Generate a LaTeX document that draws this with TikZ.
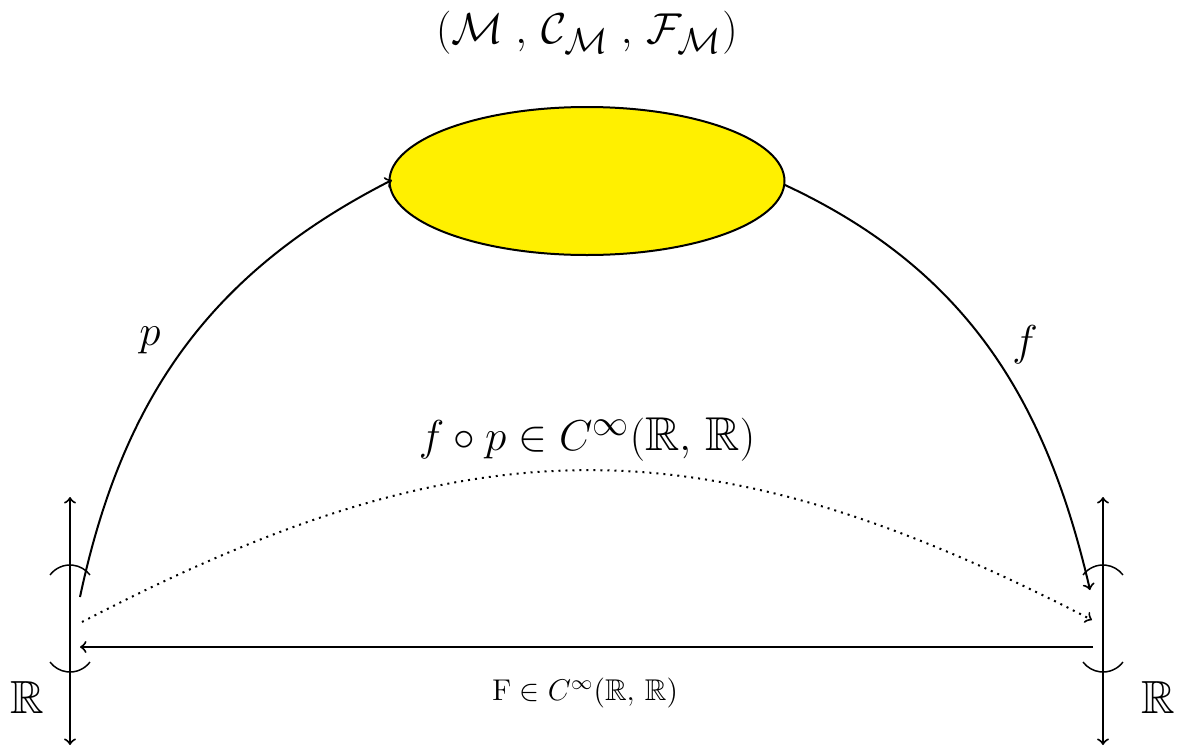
\documentclass[tikz,border=0pt]{standalone}
\usepackage{amsmath,amssymb}
\usetikzlibrary{shapes.geometric}
\definecolor{elly}{RGB}{255,240,0}
\begin{document}
\begin{tikzpicture}[x=0.4pt,y=-0.4pt,
  main/.style={line width=0.8pt},
  axisline/.style={line width=0.8pt,<->},
  bracket/.style={line width=0.6pt},
  lbl/.style={inner sep=0pt}]
\useasboundingbox (0,0) rectangle (1182,747);
% ellipse
\node[ellipse, draw, line width=0.8pt, fill=elly, minimum width=158pt, minimum height=59.2pt, inner sep=0pt] (M) at (587,181) {};
\node[lbl] (Mlbl) at (587,33) {\fontsize{19}{22}\selectfont $(\mathcal{M}\;,\,\mathcal{C}_{\mathcal{M}}\;,\,\mathcal{F}_{\mathcal{M}})$};
% axes
\coordinate (LT) at (70,497); \coordinate (LB) at (70,745);
\coordinate (RT) at (1103,497); \coordinate (RB) at (1103,745);
\draw[axisline] (LB) -- (LT);
\draw[axisline] (RB) -- (RT);
% interval brackets
\draw[bracket] (70,590) ++(217:25) arc[start angle=217,end angle=323,radius=25];
\draw[bracket] (70,647) ++(37:25) arc[start angle=37,end angle=143,radius=25];
\draw[bracket] (1103,590) ++(217:25) arc[start angle=217,end angle=323,radius=25];
\draw[bracket] (1103,647) ++(37:25) arc[start angle=37,end angle=143,radius=25];
% p and f
\coordinate (pS) at (80,597);
\coordinate (pE) at (392,180);
\draw[main,->] (pS) to[out=78,in=207] (pE);
\coordinate (fS) at (785,185);
\coordinate (fE) at (1090,590);
\draw[main,->] (fS) to[out=-25,in=103] (fE);
\node[lbl] (plbl) at (150,340) {\fontsize{19}{22}\selectfont $p$};
\node[lbl] (flbl) at (1025,345) {\fontsize{19}{22}\selectfont $f$};
% composition
\coordinate (dS) at (82,622);
\coordinate (dE) at (1092,620);
\draw[line width=0.8pt,dotted,->] (dS) .. controls (470,420) and (705,420) .. (dE);
\node[lbl] (mid) at (587,440) {\fontsize{19}{22}\selectfont $f\circ p\in C^{\infty}(\mathbb{R},\,\mathbb{R})$};
% F
\coordinate (hS) at (1093,647);
\coordinate (hE) at (80,647);
\draw[main,->] (hS) -- (hE);
\node[lbl] (Flbl) at (585,693) {\fontsize{12}{14}\selectfont $\mathrm{F}\in C^{\infty}(\mathbb{R},\,\mathbb{R})$};
\node[lbl] (RL) at (27,697) {\fontsize{18.6}{20}\selectfont $\mathbb{R}$};
\node[lbl] (RR) at (1158,697) {\fontsize{18.6}{20}\selectfont $\mathbb{R}$};
\end{tikzpicture}
\end{document}
